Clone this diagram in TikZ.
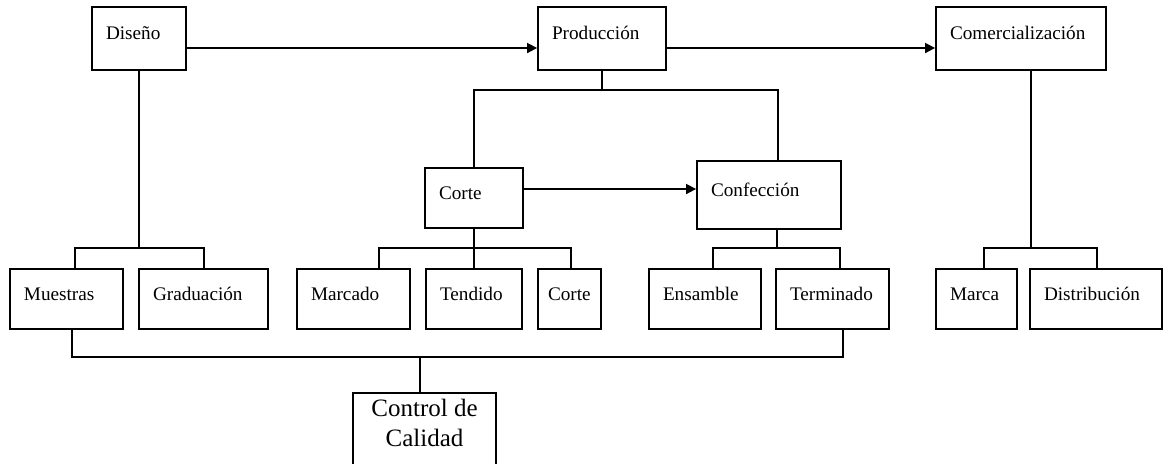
\documentclass[tikz,border=0pt]{standalone}
\usepackage{fontspec}
\setmainfont{Liberation Serif}
\usetikzlibrary{arrows.meta}

\begin{document}
\begin{tikzpicture}
  [x=0.5pt, y=-0.5pt, line width=0.8pt,
   caja/.style={draw, line width=0.9pt, inner xsep=7pt, inner ysep=0pt,
     align=left, text width=#1, minimum height=30pt,
     text height=7pt, text depth=5.6pt, font=\fontsize{9.6}{11}\selectfont},
   flecha/.style={-{Triangle[length=5pt,width=5pt]}}]
  \useasboundingbox (0,0) rectangle (1168,463);

  \node[caja=33pt, minimum height=31.5pt] (dis) at (139,38.5) {Diseño};
  \node[caja=50pt, minimum height=31.5pt] (pro) at (602,38.5) {Producción};
  \node[caja=71pt, minimum height=31.5pt] (com) at (1021,38.5) {Comercialización};
  \node[caja=35pt] (cor) at (474,198) {Corte};
  \node[caja=58pt, minimum height=34pt] (con) at (769,195) {Confección};

  \node[caja=42.5pt] (mue) at (66.5,299) {Muestras};
  \node[caja=50.5pt] (gra) at (203.5,299) {Graduación};
  \node[caja=42.5pt] (mar) at (353.5,299) {Marcado};
  \node[caja=34pt] (ten) at (474,299) {Tendido};
  \node[caja=21.5pt, inner xsep=5pt] (cte) at (569.5,299) {Corte};
  \node[caja=42pt] (ens) at (705,299) {Ensamble};
  \node[caja=42.5pt] (ter) at (832.5,299) {Terminado};
  \node[caja=26.5pt] (mca) at (976.5,299) {Marca};
  \node[caja=52pt] (dst) at (1096,299) {Distribución};

  \node[draw, line width=0.9pt, anchor=north, align=center, minimum width=71.5pt,
        inner xsep=0pt, inner ysep=3.5pt, text height=23.5pt, text depth=20pt,
        font=\fontsize{12.5}{15}\selectfont] (cal) at (424.5,392) {Control de\\Calidad};

  \draw[flecha] ([yshift=-4.75pt]dis.east) -- ([yshift=-4.75pt]pro.west);
  \draw[flecha] ([yshift=-4.75pt]pro.east) -- ([yshift=-4.75pt]com.west);
  \draw[flecha] ([yshift=4.5pt]cor.east) -- ([yshift=4.5pt]cor.east -| con.west);

  \coordinate (bpro) at ([yshift=-9.5pt]pro.south);
  \draw (pro.south) -- (bpro);
  \draw (cor.north) |- (bpro) -| ([xshift=4.5pt]con.north);

  \coordinate (bdis) at ([yshift=10pt]dis.south |- mue.north);
  \draw (dis.south) -- (bdis);
  \draw ([xshift=4.25pt]mue.north) |- (bdis) -| ([xshift=0.25pt]gra.north);

  \coordinate (bcor) at ([yshift=10pt]cor.south |- mar.north);
  \draw (cor.south) -- (ten.north);
  \draw ([xshift=12.75pt]mar.north) |- (bcor) -| ([xshift=0.75pt]cte.north);

  \coordinate (bcon) at ([xshift=4pt,yshift=10pt]con.south |- ens.north);
  \draw ([xshift=4pt]con.south) -- (bcon);
  \draw ([xshift=4pt]ens.north) |- (bcon) -| ([xshift=3.75pt]ter.north);

  \coordinate (bcom) at ([xshift=5pt,yshift=10pt]com.south |- mca.north);
  \draw ([xshift=5pt]com.south) -- (bcom);
  \draw ([xshift=3.75pt]mca.north) |- (bcom) -| ([xshift=0.5pt]dst.north);

  \coordinate (bus) at ([xshift=5.25pt,yshift=-13.5pt]ter.south);
  \draw ([xshift=2.75pt]mue.south) |- (bus) -- (bus |- ter.south);
  \draw ([xshift=-2.25pt]cal.north) -- ([xshift=-2.25pt]cal.north |- bus);
\end{tikzpicture}
\end{document}
